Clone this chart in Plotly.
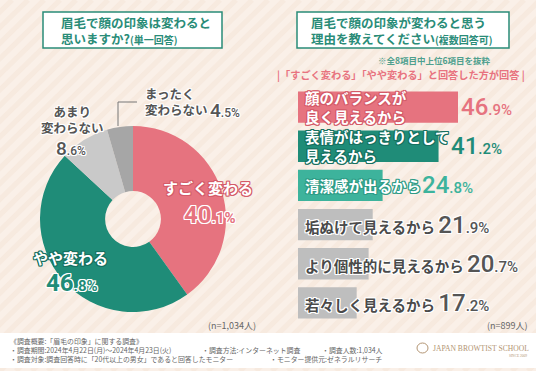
import plotly.graph_objects as go

W, H = 536, 371

# ---------------- data ----------------
pie_labels = ["すごく変わる", "やや変わる", "あまり変わらない", "まったく変わらない"]
pie_values = [40.1, 46.8, 8.6, 4.5]
pie_colors = ["#E6737F", "#1F8C78", "#C9C9C9", "#A6A6A6"]

bar_labels = ["顔のバランスが<br>良く見えるから", "表情がはっきりとして<br>見えるから", "清潔感が出るから",
              "垢ぬけて見えるから", "より個性的に見えるから", "若々しく見えるから"]
bar_values = [46.9, 41.2, 24.8, 21.9, 20.7, 17.2]
bar_colors = ["#E6737F", "#1F8C78", "#3DB39C", "#BEBEBE", "#BEBEBE", "#BEBEBE"]
bar_text_colors = ["#E6737F", "#1F8C78", "#3DB39C", "#555555", "#555555", "#555555"]

JP = "Noto Sans CJK JP"
NUM = "Roboto"
GREEN = "#2A8C78"


def px(x):
    return x / W


def py(y):
    return 1 - y / H


def outline(c, w=1):
    parts = []
    for dx, dy in [(w, 0), (-w, 0), (0, w), (0, -w), (w, w), (-w, -w), (w, -w), (-w, w)]:
        parts.append(f"{dx}px {dy}px 0 {c}")
    return ", ".join(parts)


def pct(v, big, small, color=None, family=None):
    s = f"{v:.1f}"
    a, b = s.split(".")
    extra = ""
    if color:
        extra += f"color:{color};"
    if family:
        extra += f"font-family:{family};font-weight:500;"
    return (f"<span style='font-size:{big}px;{extra}'>{a}</span>"
            f"<span style='font-size:{small}px;{extra}'>.{b}%</span>")


fig = go.Figure()

# pie
fig.add_trace(go.Pie(
    labels=pie_labels, values=pie_values, sort=False, direction="clockwise",
    rotation=0, hole=0.3, marker=dict(colors=pie_colors, line=dict(width=0)),
    textinfo="none", showlegend=False, hoverinfo="label+percent",
    domain=dict(x=[px(40), px(226)], y=[py(312), py(126)]),
))

# bars
fig.add_trace(go.Bar(
    x=bar_values, y=list(range(len(bar_values))), orientation="h",
    marker=dict(color=bar_colors, line=dict(width=0)), width=0.8,
    showlegend=False, hoverinfo="x",
))

XMAX = 60
SCALE = 160 / 46.9
x0, x1 = 298, 298 + XMAX * SCALE
fig.update_layout(
    xaxis=dict(domain=[px(x0), px(x1)], range=[0, XMAX], visible=False, fixedrange=True),
    yaxis=dict(domain=[py(322.5), py(87.5)], range=[5.5, -0.5], visible=False, fixedrange=True),
)

shapes = []
# background stripes
for k in range(-40, 60):
    xs = k * 16
    shapes.append(dict(type="line", xref="paper", yref="paper",
                       x0=px(xs), y0=py(H), x1=px(xs + 380), y1=py(0),
                       line=dict(color="rgba(240,214,196,0.25)", width=5), layer="below"))
# footer band
shapes.append(dict(type="rect", xref="paper", yref="paper", x0=0, x1=1, y0=py(368), y1=py(333),
                   fillcolor="white", line=dict(width=0), layer="below"))
# title boxes
for (a, b) in [(43, 222), (297, 509)]:
    shapes.append(dict(type="rect", xref="paper", yref="paper", x0=px(a), x1=px(b),
                       y0=py(48), y1=py(12), fillcolor="white",
                       line=dict(color=GREEN, width=1.5), layer="below"))
# leader line for まったく変わらない
shapes.append(dict(type="path", xref="paper", yref="paper",
                   path=f"M {px(118)} {py(126)} L {px(118)} {py(102)} L {px(137)} {py(102)}",
                   line=dict(color="#777777", width=1)))

ann = []


def text(x, y, t, size, color, xanchor="left", bold=False, shadow=None, family=JP, yanchor="middle",
         weight=None):
    f = dict(family=family, size=size, color=color,
             weight=weight if weight else ("bold" if bold else "normal"))
    if shadow:
        f["shadow"] = shadow
    ann.append(dict(xref="paper", yref="paper", x=px(x), y=py(y), text=t, showarrow=False,
                    xanchor=xanchor, yanchor=yanchor, align="left" if xanchor == "left" else
                    ("right" if xanchor == "right" else "center"), font=f))


# titles
text(59, 30.5, "眉毛で顔の印象は変わると<br>思いますか?<span style='font-size:10px'>(単一回答)</span>",
     12.5, GREEN, bold=True)
text(309, 30.5, "眉毛で顔の印象が変わると思う<br>理由を教えてください<span style='font-size:10px'>(複数回答可)</span>",
     12.5, GREEN, bold=True)
text(493, 60, "※全8項目中上位6項目を抜粋", 8.5, "#4FA08E", xanchor="right", bold=True)
text(401, 75, "|「すごく変わる」「やや変わる」と回答した方が回答 |", 10.2, "#E8737F", xanchor="center", bold=True)

# pie labels
text(208, 188, pie_labels[0], 15, "white", xanchor="center", bold=True, shadow=outline("#D45A68"))
text(210, 215, pct(pie_values[0], 24, 15), 24, "#E6737F", xanchor="center", bold=True,
     shadow=outline("white"), family=NUM)
text(70, 257, pie_labels[1], 15, "white", xanchor="center", bold=True, shadow=outline("#16705F"))
text(72, 283, pct(pie_values[1], 24, 15), 24, "#1F8C78", xanchor="center", bold=True,
     shadow=outline("white"), family=NUM)
text(72, 120, "あまり<br>変わらない", 12.5, "#555555", xanchor="center", bold=True, shadow=outline("white"))
text(71, 148, pct(pie_values[2], 19, 12), 19, "#555555", xanchor="center", weight=500,
     shadow=outline("white"), family=NUM)
text(143, 101.5, "まったく<br>変わらない", 12.5, "#555555", bold=True, shadow=outline("white"))
text(208, 110, pct(pie_values[3], 19, 12), 19, "#555555", weight=500,
     shadow=outline("white"), family=NUM)

# bar labels and values
LABEL_FS = 14.5
LABEL_SHIFT = 5
outline_cols = {0: "#D45A68", 1: "#16705F", 2: "#2E9C86"}
for i, (lab, v) in enumerate(zip(bar_labels, bar_values)):
    if i < 3:
        fc, sh = "white", outline(outline_cols[i])
    else:
        fc, sh = "#4A4A4A", outline("white")
    if i < 3:
        ann.append(dict(xref="x", yref="y", x=0, y=i, text=lab, showarrow=False, xanchor="left",
                        yanchor="middle", xshift=LABEL_SHIFT, align="left",
                        font=dict(family=JP, size=LABEL_FS, color=fc, weight="bold", shadow=sh)))
        longest = max(len(s) for s in lab.split("<br>"))
        text_end = LABEL_SHIFT + LABEL_FS * longest
        bar_end = v * SCALE
        shift = max(0, text_end - bar_end) + 1
        ann.append(dict(xref="x", yref="y", x=v, y=i, text=pct(v, 24, 15), showarrow=False,
                        xanchor="left", yanchor="middle", xshift=shift,
                        font=dict(family=NUM, size=24, color=bar_text_colors[i], weight=500)))
    else:
        full = (lab + " " + pct(v, 24, 15, color=bar_text_colors[i], family=NUM))
        ann.append(dict(xref="x", yref="y", x=0, y=i, text=full, showarrow=False, xanchor="left",
                        yanchor="middle", xshift=LABEL_SHIFT, align="left",
                        font=dict(family=JP, size=LABEL_FS, color=fc, weight="bold", shadow=sh)))

# n labels
text(258, 325, "(n=1,034人)", 9, "#666666", xanchor="right")
text(530, 325, "(n=899人)", 9, "#666666", xanchor="right")

# footer
FS = 6.9
FC = "#666666"
text(8, 341, "《調査概要:「眉毛の印象」に関する調査》", FS, FC)
text(8, 350, "・調査期間:2024年4月22日(月)～2024年4月23日(火)", FS, FC)
text(200, 350, "・調査方法:インターネット調査", FS, FC)
text(320, 350, "・調査人数:1,034人", FS, FC)
text(8, 359, "・調査対象:調査回答時に「20代以上の男女」であると回答したモニター", FS, FC)
text(268, 359, "・モニター提供元:ゼネラルリサーチ", FS, FC)
text(431, 348, "JAPAN BROWTIST SCHOOL", 7.6, "#B39573", family="Liberation Serif")
text(529, 355.5, "SINCE 2009", 3.5, "#B39573", xanchor="right", family="Liberation Serif")
shapes.append(dict(type="circle", xref="paper", yref="paper", x0=px(417), x1=px(428),
                   y0=py(353), y1=py(343), line=dict(color="#B39573", width=1)))

fig.update_layout(
    width=W, height=H, margin=dict(l=0, r=0, t=0, b=0),
    paper_bgcolor="#FAF0E8", plot_bgcolor="rgba(0,0,0,0)",
    shapes=shapes, annotations=ann, bargap=0.2,
    font=dict(family=JP),
)

fig.write_html("out.html", config={"displayModeBar": False},
               post_script="document.body.style.margin='0';")
